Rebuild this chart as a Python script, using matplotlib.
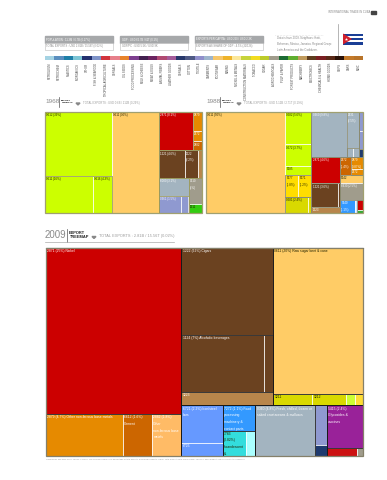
#!/usr/bin/env python
# -*- coding: utf-8 -*-
"""
Cuba export treemaps 1968 / 1988 / 2009
"""
import matplotlib
matplotlib.use('Agg')
import matplotlib.pyplot as plt
from matplotlib.patches import Rectangle, Polygon

plt.rcParams['font.family'] = ['Liberation Sans', 'DejaVu Sans']

W, H = 387, 480

# colour key
key_labels = ['Petroleum', 'Petrochem', 'Plastics', 'Inorganics', 'Other', 'Fish & seafood', 'Tropical agriculture',
              'Cereals', 'Oil seeds', 'Food processing', 'Milk & cheese', 'Meat & eggs', 'Animal fibers',
              'Leather goods', 'Cereals', 'Cotton', 'Textile', 'Garments', 'Footwear', 'Mining', 'Nickel & metals',
              'Construction materials', 'Tobacco', 'Sugar', 'Agrochemicals', 'Pulp & paper', 'Forest products',
              'Machinery', 'Electronics', 'Chemicals & health', 'Home goods', 'Ships', 'Cars', 'Misc']
key_colors = ['#a5d3e3', '#5b8fbf', '#1f7fa8', '#7cc5d6', '#22306e', '#7f94c9', '#d2343c', '#e77f8a', '#e8832a',
              '#7d3f8f', '#43204f', '#6b2460', '#b04a72', '#a45c9a', '#28386b', '#4f5a85', '#8f8fcb', '#9db4cc',
              '#f6c66a', '#eeb32a', '#fbe79a', '#c6d33a', '#f2dc1e', '#bccb2a', '#a09c8c', '#1b6b34', '#5fae30',
              '#c09a5c', '#5e3d1e', '#7a1f22', '#5a2a18', '#2a1208', '#c47a2a', '#b8742a']

# header boxes
header_top = ['POPULATION : 11.3M / 6.7B (0.17%)', 'GDP : USD 62.7B / 61T (0.1%)', 'EXPORTS PER CAPITA : USD 250 / USD 2.3K']
header_bottom = ['TOTAL EXPORTS : USD 2.81B / 15.56T (0.02%)', 'GDP/PC : USD 5.5K / USD 9K',
                 'EXPORTS AS SHARE OF GDP : 4.5% (32/128)']
note_text = 'Data is from 2009. Neighbors: Haiti,\nBahamas, Mexico, Jamaica. Regional Group:\nLatin America and the Caribbean.'

# 1968
sizes_68 = [27.2, 11.1, 4.4, 29.9, 8.25, 1.1, .63, .52, 4.46, 2.32, .72, 3.34, 2.37, .68, .11, 2.15, .75]
labels_68 = ['0612 (39%)', '0611 (16%)', '0616 (4.3%)', '0611 (30%)', '2871 (8.1%)', '2879', '2672', '2882', '1221 (4.6%)',
             '1222\n(2.2%)', '', '6000 (3.1%)', '0361 (1.5%)', '', '', '9310\n(2%)', '1211']
colors_68 = ['#ccff00', '#ccff00', '#ccff00', '#ffcc66', '#cc0000', '#e68a00', '#e68a00', '#cc6600', '#6b4220',
             '#6b4220', '#b8864b', '#a3b4c0', '#8f99d0', '#8f99d0', '#1f3a6e', '#a09c8c', '#33cc11']
tree_68 = ('h', [('v', [0, ('h', [1, 2])]), 3,
                 ('v', [('h', [4, ('v', [5, 6, 7])]), ('h', [8, 9, 10]),
                        ('h', [('v', [11, ('h', [12, 13, 14])]), ('v', [15, 16])])])])

# 1988
sizes_88 = [50.3, 5.37, 3.58, 1.46, 1.79, 1.79, 2.3, .3, 10.0, 2.77, .37, .3, .5, .45, .2, 4.8, 3.95, .3, 1.1,
            1.24, .9, .45, 1.15, 2.44, 1.22, .16, .37, .12]
labels_88 = ['0611 (50%)', '0582 (5.6%)', '0572 (3.7%)', '0585', '0577\n(1.8%)', '0571\n(1.2%)', '0581 (2.4%)', '',
             '0360 (9.8%)', '2631\n(2.5%)', '', '', '', '', '', '2871 (4.6%)', '1221 (3.6%)', '', '1223',
             '2672\n(1.4%)', '2879\n(0.87%)', '2672', '0542', '8930 (2.5%)', '5140\n(1.1%)', '', '', '']
colors_88 = ['#ffcc66', '#ccff00', '#ccff00', '#ccff00', '#ffdd00', '#ffdd00', '#d9d900', '#d9d900', '#a3b4c0',
             '#a3b4c0', '#a3b4c0', '#a3b4c0', '#8f99d0', '#8f99d0', '#1f3a6e', '#cc0000', '#6b4220', '#6b4220',
             '#b8864b', '#cc6600', '#e68a00', '#e68a00', '#ffcc66', '#a09c8c', '#3399ff', '#cce5ff', '#cc0000',
             '#33aa33']
tree_88 = ('h', [0, ('v', [1, 2, 3, ('h', [4, 5]), ('h', [6, 7])]),
                 ('v', [('h', [8, ('v', [9, ('h', [10, 11])]), ('v', [('v', [12, 13]), 14])]),
                        ('h', [('v', [15, ('h', [16, 17]), 18]),
                               ('v', [('h', [19, ('v', [20, 21])]), 22, 23, ('h', [24, 25, ('v', [26, 27])])])])])])

# 2009
sizes_09 = [34.3, 4.85, 1.85, 1.85, 12.1, 7.1, .83, 1.88, 19.9, .68, .6, .15, .14, 2.34, .8, 1.25, .88, .36,
            4.5, .75, .2, 2.33, .33, .07]
labels_09 = ['2871 (25%) Nickel', '2879 (4.7%) Other non-ferrous base metals', '6612 (1.6%)\nCement',
             '2882 (1.8%)\nOther\nnon-ferrous base\nmetals', '1222 (62%) Cigars', '1124 (7%) Alcoholic beverages',
             '', '1223', '0611 (20%) Raw sugar beet & cane', '1211', '1212', '', '',
             '6721 (2.2%) Iron/steel\nbars', '6725', '7272 (1.1%) Food\nprocessing\nmachinery &\ncontact parts',
             '7783\n(0.82%)\nIncandescent\n&', '', '0360 (4.8%) Fresh, chilled, frozen or\nsalted crustaceans & molluscs',
             '', '', '5415 (2.4%)\nGlycosides &\nvaccines', '', '']
colors_09 = ['#cc0000', '#e68a00', '#cc6600', '#ffbb66', '#6b4220', '#6b4220', '#6b4220', '#b8864b', '#ffcc66',
             '#d9d900', '#d9d900', '#ccff33', '#ffdd33', '#6699ff', '#6699ff', '#3399ff', '#33dddd', '#aaffff',
             '#a3b4c0', '#8f99d0', '#1f3a6e', '#992299', '#cc1111', '#a09c8c']
tree_09 = ('h', [('v', [0, ('h', [1, 2, 3])]),
                 ('v', [('h', [('v', [4, ('h', [5, 6]), 7]), ('v', [8, ('h', [9, 10, 11, 12])])]),
                        ('h', [('h', [('v', [13, 14]), ('v', [15, ('h', [16, 17])])]),
                               ('h', [18, ('v', [19, 20])]),
                               ('v', [21, ('h', [22, 23])])])])])
dark_text = {'#ccff00', '#ffcc66', '#d9d900', '#ffdd00', '#33dddd', '#ccff33', '#33cc11', '#33aa33'}


def subtree_total(node, sizes):
    if isinstance(node, int):
        return sizes[node]
    return sum(subtree_total(c, sizes) for c in node[1])


def layout(node, sizes, x, y, w, h, out, groups):
    """slice and dice, y grows downward"""
    if isinstance(node, int):
        out[node] = (x, y, w, h)
        return
    groups.append((x, y, w, h))
    total = subtree_total(node, sizes)
    pos = 0.0
    for c in node[1]:
        frac = subtree_total(c, sizes) / total
        if node[0] == 'h':
            layout(c, sizes, x + pos * w, y, frac * w, h, out, groups)
        else:
            layout(c, sizes, x, y + pos * h, w, frac * h, out, groups)
        pos += frac


def draw_treemap(box, tree, sizes, labels, colors, fs, group_color, edge_color):
    ax = fig.add_axes([box[0] / W, 1 - (box[1] + box[3]) / H, box[2] / W, box[3] / H])
    ax.set_xlim(0, box[2])
    ax.set_ylim(box[3], 0)
    ax.axis('off')
    rects, groups = {}, []
    layout(tree, sizes, 0, 0, box[2], box[3], rects, groups)
    for i, (x, y, w, h) in rects.items():
        patch = Rectangle((x, y), w, h, facecolor=colors[i], edgecolor='#ffffff', linewidth=0.5)
        ax.add_patch(patch)
        if labels[i]:
            ax.text(x + 1.2, y + 1.2, labels[i], fontsize=fs, va='top', ha='left', linespacing=1.9,
                    color='#222200' if colors[i] in dark_text else '#ffffff', clip_path=patch)
    for (x, y, w, h) in groups[2:] if group_color != edge_color else []:
        ax.add_patch(Rectangle((x, y), w, h, fill=False, edgecolor=group_color, linewidth=0.6))
    ax.add_patch(Rectangle((0, 0), box[2], box[3], fill=False, edgecolor=edge_color, linewidth=0.9, clip_on=False))


def draw_title(ax, x, y, year, year_fs, total, text_x, total_x, fs, fs2, half, line=None):
    ax.text(x, y, year, fontsize=year_fs, color='#8a8a8a', va='center', ha='left')
    ax.plot([text_x - 2, text_x - 2], [y - half, y + half], color='#555555', lw=0.5)
    ax.text(text_x, y, 'EXPORT\nTREEMAP', fontsize=fs, color='#222222', va='center', ha='left', fontweight='bold',
            linespacing=1.3)
    ax.add_patch(Polygon([[total_x - 7, y + 1.5], [total_x - 3, y + 1.5], [total_x - 5, y + 3.5]], color='#888888'))
    ax.text(total_x, y + 1.5, total, fontsize=fs2, color='#9a9a9a', va='center', ha='left')
    if line:
        ax.plot(line, [y + 7, y + 7], color='#aaaaaa', lw=0.5)


fig = plt.figure(figsize=(W / 100, H / 100), dpi=100)
bg = fig.add_axes([0, 0, 1, 1])
bg.set_xlim(0, W)
bg.set_ylim(H, 0)
bg.axis('off')

# page header
bg.text(370, 12, 'INTERNATIONAL TRADE IN CUBA', fontsize=1.9, color='#888888', ha='right', va='center')
bg.add_patch(Rectangle((371, 10.5), 5, 3, color='#444444'))
for x0, wd, t1, t2 in zip([45, 120, 195], [68, 68, 68], header_top, header_bottom):
    bg.add_patch(Rectangle((x0, 36), wd, 7, color='#a6a8aa'))
    bg.add_patch(Rectangle((x0, 43), wd, 6.5, facecolor='white', edgecolor='#bbbbbb', lw=0.4))
    bg.text(x0 + 1.5, 39.5, t1, fontsize=1.9, color='white', va='center')
    bg.text(x0 + 1.5, 46.3, t2, fontsize=1.9, color='#888888', va='center')
bg.plot([275, 323], [35, 35], color='#cccccc', lw=0.4, ls=':')
bg.text(277, 44, note_text, fontsize=2.0, color='#888888', va='center', linespacing=1.6)
bg.plot([338, 338], [24, 56], color='#999999', lw=0.5)

# flag
for i in range(5):
    bg.add_patch(Rectangle((343, 33.5 + i * 2.2), 20, 2.2, color='#1b3f96' if i % 2 == 0 else 'white', lw=0))
bg.add_patch(Polygon([[343, 33.5], [343, 44.5], [352, 39]], color='#d21f2b', lw=0))
bg.plot([346], [39], marker='*', color='white', ms=2.5, mew=0)

# colour key
key_ax = fig.add_axes([45 / W, 1 - 59.5 / H, 318 / W, 3.5 / H])
key_ax.bar(range(len(key_colors)), 1, width=1, color=key_colors)
key_ax.set_xlim(-.5, len(key_colors) - .5)
key_ax.set_ylim(0, 1)
key_ax.set_yticks([])
key_ax.set_xticks(range(len(key_colors)))
key_ax.set_xticklabels([s.upper() for s in key_labels], rotation=90, fontsize=1.9, color='#444444', ha='center', va='top')
key_ax.tick_params(axis='x', length=0, pad=2.5)
for s in key_ax.spines.values():
    s.set_visible(False)

# titles
draw_title(bg, 45, 101.5, '1968', 4.6, 'TOTAL EXPORTS : USD 0.6B / 212B (0.29%)', 61, 83, 1.7, 2.0, 5)
draw_title(bg, 206, 101.5, '1988', 4.6, 'TOTAL EXPORTS : USD 5.12B / 2.71T (0.19%)', 222, 244, 1.7, 2.0, 5)
draw_title(bg, 45, 235, '2009', 7, 'TOTAL EXPORTS : 2.81B / 15.56T (0.02%)', 69, 99, 2.9, 2.8, 6.5, line=[45, 174])

# treemaps
draw_treemap((45, 111.5, 157, 101.5), tree_68, sizes_68, labels_68, colors_68, 2.1, '#9a9a60', '#a0a070')
draw_treemap((206, 111.5, 157, 101.5), tree_88, sizes_88, labels_88, colors_88, 2.1, '#8a8a70', '#a0a070')
draw_treemap((45.5, 248, 317.5, 207.5), tree_09, sizes_09, labels_09, colors_09, 2.4, '#1a1a1a', '#85806a')
bg.plot([45.5, 363], [247.5, 247.5], color='#111111', lw=0.8)

bg.text(46, 459, 'Trademarks and uses 2009. Values: 2 codes. The colored numbers are percentage of total exports. Emerging '
                 'Products: Labor: Total Product/Total World Trade. Values of each product commensurate to economies.',
        fontsize=1.5, color='#999999', va='center')

plt.savefig('out.png', dpi=100)
plt.close()
